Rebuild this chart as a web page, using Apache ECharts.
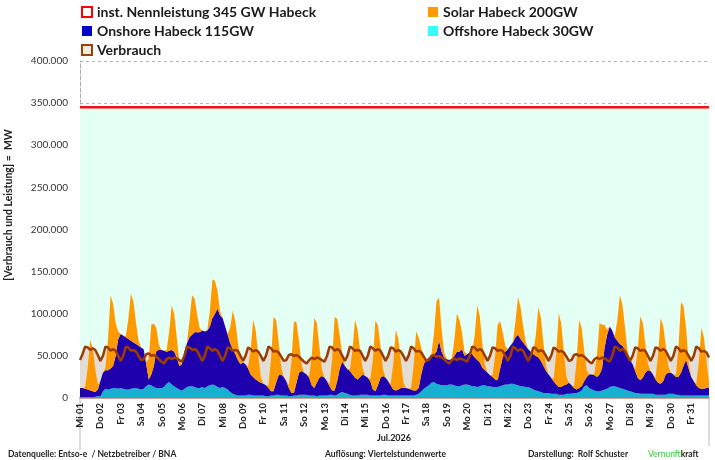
<!DOCTYPE html>
<html>
<head>
<meta charset="utf-8">
<script src="https://cdn.jsdelivr.net/npm/echarts@6/dist/echarts.min.js"></script>
<style>
  html, body { margin: 0; padding: 0; background: #fff; }
  #chart { width: 715px; height: 460px; }
</style>
</head>
<body>
<div id="chart"></div>
<script>
// Tage (Achsbeschriftung) und Stützstellen je Tag (3-Stunden-Raster)
const dayLabels = ['Mi 01', 'Do 02', 'Fr 03', 'Sa 04', 'So 05', 'Mo 06', 'Di 07', 'Mi 08', 'Do 09', 'Fr 10',
  'Sa 11', 'So 12', 'Mo 13', 'Di 14', 'Mi 15', 'Do 16', 'Fr 17', 'Sa 18', 'So 19', 'Mo 20', 'Di 21',
  'Mi 22', 'Do 23', 'Fr 24', 'Sa 25', 'So 26', 'Mo 27', 'Di 28', 'Mi 29', 'Do 30', 'Fr 31'];
const hours = ['00:00', '03:00', '06:00', '09:00', '12:00', '15:00', '18:00', '21:00'];

const yTicks = [0, 50000, 100000, 150000, 200000, 250000, 300000, 350000, 400000];

// installierte Leistung in GW
const nennleistungGW = 345;

// Offshore in GW, je Zeile ein Tag
const offshore = [
  1, 1, 1, 1, 1, 1, 1.5, 2,
  2, 8, 11, 10, 11, 12, 12, 11,
  12, 11, 10, 10, 11, 12, 12, 11,
  10, 11, 14, 16, 15, 13, 12, 12,
  12, 13, 17, 19, 16, 14, 12, 10,
  9, 11, 13, 14, 14, 13, 12, 12,
  13, 12, 14, 15, 16, 15, 13, 12,
  13, 12, 10, 7, 5, 4, 3, 3,
  3, 3, 4, 4, 3, 3, 3, 3,
  3, 2, 2, 3, 3, 4, 4, 3,
  3, 3, 2, 2, 3, 3, 4, 4,
  4, 4, 3, 3, 3, 2, 3, 3,
  3, 3, 4, 4, 3, 4, 6, 7,
  6, 5, 4, 3, 3, 3, 4, 4,
  4, 4, 3, 3, 3, 3, 3, 4,
  4, 3, 3, 3, 3, 3, 3, 3,
  3, 3, 3, 3, 4, 5, 8, 11,
  13, 15, 18, 19, 17, 16, 15, 15,
  15, 16, 16, 15, 14, 14, 15, 16,
  16, 15, 14, 14, 13, 14, 15, 15,
  14, 14, 13, 13, 13, 14, 15, 16,
  16, 17, 17, 16, 15, 14, 14, 13,
  13, 12, 10, 9, 8, 7, 6, 6,
  6, 5, 5, 5, 4, 4, 4, 5,
  5, 5, 6, 6, 7, 9, 14, 15,
  12, 10, 9, 8, 8, 9, 10, 11,
  13, 14, 14, 13, 12, 11, 10, 9,
  8, 7, 6, 6, 5, 5, 5, 5,
  5, 5, 4, 4, 4, 4, 4, 5,
  5, 5, 4, 4, 3, 3, 3, 3,
  3, 3, 3, 3, 3, 3, 3, 3
];

// Onshore in GW
const onshore = [
  11, 11, 10, 9, 8, 7, 5.5, 8,
  18, 22, 22, 23, 24, 26, 38, 59,
  64, 63, 62, 60, 57, 54, 52, 51,
  50, 47, 26, 6, 13, 25, 44, 45,
  45, 43, 38, 37, 41, 41, 36, 28,
  31, 44, 52, 58, 61, 65, 66, 66,
  67, 67, 66, 70, 79, 85, 93, 86,
  82, 73, 65, 58, 53, 48, 42, 37,
  39, 37, 31, 24, 22, 19, 17, 15,
  14, 13, 10, 5, 5, 14, 23, 25,
  22, 17, 10, 4, 3, 15, 26, 28,
  26, 24, 21, 12, 9, 16, 21, 23,
  21, 17, 10, 5, 6, 16, 29, 36,
  32, 29, 28, 25, 21, 19, 21, 24,
  22, 20, 17, 7, 5, 12, 21, 22,
  20, 17, 12, 7, 6, 7, 9, 9,
  9, 8, 7, 6, 5, 7, 20, 29,
  32, 33, 32, 33, 38, 52, 40, 33,
  31, 29, 30, 35, 41, 41, 43, 34,
  36, 39, 38, 34, 32, 28, 21, 18,
  16, 13, 12, 9, 8, 21, 33, 39,
  42, 45, 49, 56, 60, 56, 52, 49,
  45, 43, 42, 41, 40, 37, 32, 26,
  22, 19, 15, 11, 9, 9, 11, 11,
  13, 10, 6, 4, 5, 5, 6, 10,
  16, 18, 18, 17, 20, 26, 50, 64,
  72, 66, 58, 55, 52, 51, 48, 41,
  37, 33, 26, 18, 16, 19, 25, 28,
  27, 23, 18, 14, 13, 16, 24, 25,
  25, 23, 21, 21, 27, 35, 42, 32,
  22, 17, 12, 9, 8, 8, 9, 9
];

// Solar in GW
const solar = [
  0, 0, 2, 25, 60, 51, 27, 6,
  0, 0, 3, 37, 87, 74, 39, 9,
  0, 0, 2, 24, 56, 48, 25, 6,
  0, 0, 2, 25, 59, 50, 27, 6,
  0, 0, 2, 22, 53, 45, 24, 5,
  0, 0, 1, 20, 47, 40, 21, 5,
  0, 0, 1, 19, 46, 39, 21, 5,
  0, 0, 1, 19, 46, 39, 21, 5,
  0, 0, 2, 29, 68, 58, 31, 7,
  0, 0, 3, 37, 88, 75, 40, 9,
  0, 0, 3, 36, 85, 72, 38, 8,
  0, 0, 2, 35, 83, 71, 37, 8,
  0, 0, 3, 37, 87, 74, 39, 9,
  0, 0, 2, 29, 69, 59, 31, 7,
  0, 0, 3, 35, 84, 71, 38, 8,
  0, 0, 2, 30, 72, 61, 32, 7,
  0, 0, 2, 29, 70, 60, 32, 7,
  0, 0, 2, 25, 60, 51, 27, 6,
  0, 0, 1, 19, 45, 38, 20, 5,
  0, 0, 2, 27, 65, 55, 29, 7,
  0, 0, 2, 28, 66, 56, 30, 7,
  0, 0, 1, 19, 45, 38, 20, 5,
  0, 0, 2, 25, 60, 51, 27, 6,
  0, 0, 3, 37, 88, 75, 40, 9,
  0, 0, 2, 34, 81, 69, 36, 8,
  0, 0, 2, 26, 61, 52, 27, 6,
  0, 0, 2, 24, 58, 49, 26, 6,
  0, 0, 2, 32, 76, 65, 34, 8,
  0, 0, 2, 33, 78, 66, 35, 8,
  0, 0, 3, 35, 84, 71, 38, 8,
  0, 0, 2, 30, 72, 61, 32, 7
];

// Verbrauch in GW
const verbrauch = [
  45, 52, 61, 60, 57, 59, 57, 51,
  44, 50, 61, 60, 56, 58, 56, 50,
  44, 50, 61, 60, 56, 57, 55, 50,
  45, 46, 52, 53, 50, 51, 49, 46,
  43, 41, 46, 48, 46, 48, 47, 45,
  43, 50, 61, 60, 57, 58, 56, 50,
  44, 50, 61, 59, 56, 58, 56, 50,
  44, 50, 60, 59, 56, 57, 56, 50,
  44, 50, 60, 58, 55, 57, 55, 50,
  44, 50, 61, 59, 55, 56, 54, 49,
  44, 45, 51, 52, 50, 51, 49, 46,
  43, 41, 45, 48, 46, 48, 47, 45,
  43, 50, 61, 60, 56, 58, 56, 50,
  44, 50, 61, 59, 56, 57, 56, 50,
  44, 50, 61, 59, 56, 58, 56, 50,
  44, 50, 60, 59, 55, 57, 55, 50,
  44, 50, 61, 59, 55, 56, 54, 49,
  44, 45, 50, 51, 49, 50, 48, 46,
  43, 41, 45, 47, 45, 47, 46, 45,
  43, 50, 61, 60, 56, 58, 56, 50,
  44, 50, 60, 59, 56, 57, 56, 50,
  44, 50, 61, 59, 56, 58, 56, 50,
  44, 50, 60, 59, 55, 57, 55, 50,
  44, 50, 60, 58, 55, 56, 54, 49,
  44, 45, 51, 52, 50, 51, 49, 46,
  43, 41, 46, 48, 46, 48, 47, 45,
  43, 50, 61, 60, 56, 58, 56, 50,
  44, 50, 60, 59, 56, 57, 56, 50,
  44, 50, 60, 59, 56, 58, 56, 50,
  44, 50, 61, 59, 55, 57, 55, 50,
  44, 50, 61, 59, 55, 56, 54, 48
];

const FONT = 'Lato';
const toMW = v => v * 1000;
const fmt = v => String(v).replace(/\B(?=(\d{3})+(?!\d))/g, '.');

const categories = dayLabels.flatMap(d => hours.map(h => d + ' ' + h));

const names = {
  nenn: 'inst. Nennleistung 345 GW Habeck',
  on: 'Onshore Habeck 115GW',
  verb: 'Verbrauch',
  solar: 'Solar Habeck 200GW',
  off: 'Offshore Habeck 30GW'
};

const legendText = { fontFamily: FONT, fontWeight: 'bold', fontSize: 14, color: '#1a1a1a' };
const footText = { fontFamily: FONT, fontWeight: 'bold', fontSize: 8.5, fill: '#222' };

const chart = echarts.init(document.getElementById('chart'));

chart.setOption({
  animation: false,
  backgroundColor: '#fff',
  grid: { left: 80, right: 6, top: 61, bottom: 62 },
  legend: [
    {
      left: 76, top: 0, orient: 'vertical', itemGap: 5, itemWidth: 10, itemHeight: 10,
      selectedMode: false, textStyle: legendText,
      data: [
        { name: names.nenn, icon: 'rect', itemStyle: { color: '#fff', borderColor: '#ff0000', borderWidth: 2 } },
        { name: names.on, icon: 'rect', itemStyle: { color: '#0000c8', borderWidth: 0 } },
        { name: names.verb, icon: 'rect', itemStyle: { color: '#f2ebe4', borderColor: '#a04000', borderWidth: 2 } }
      ]
    },
    {
      left: 423, top: 0, orient: 'vertical', itemGap: 5, itemWidth: 10, itemHeight: 10,
      selectedMode: false, textStyle: legendText,
      data: [
        { name: names.solar, icon: 'rect', itemStyle: { color: '#ff9900', borderWidth: 0 } },
        { name: names.off, icon: 'rect', itemStyle: { color: '#33ffff', borderWidth: 0 } }
      ]
    }
  ],
  xAxis: {
    type: 'category',
    data: categories,
    boundaryGap: false,
    axisLine: { lineStyle: { color: '#d0a090', width: 2 } },
    axisTick: { show: false },
    axisLabel: {
      interval: 7,
      rotate: 90,
      margin: 5,
      fontFamily: FONT,
      fontWeight: 'bold',
      fontSize: 9.5,
      color: '#222',
      formatter: v => v.split(' ').slice(0, 2).join(' ')
    },
    splitLine: { show: false }
  },
  yAxis: {
    type: 'value',
    min: yTicks[0],
    max: yTicks[yTicks.length - 1],
    interval: yTicks[1] - yTicks[0],
    axisLine: { show: true, lineStyle: { color: '#aaa', type: 'dashed', width: 1 } },
    axisTick: { show: false },
    axisLabel: { margin: 12, fontFamily: FONT, fontSize: 10, color: '#333', formatter: fmt },
    splitLine: { lineStyle: { color: '#b4b4b4', type: [3, 3], width: 1 } }
  },
  series: [
    {
      name: names.nenn, type: 'line', z: 1, symbol: 'none', silent: true,
      data: categories.map(() => toMW(nennleistungGW)),
      itemStyle: { color: '#ff0000' },
      lineStyle: { color: '#ff1010', width: 2.5 },
      areaStyle: { color: '#e4fff4', opacity: 1 }
    },
    {
      name: 'Verbrauch Fläche', type: 'line', z: 2, symbol: 'none', silent: true,
      data: verbrauch.map(toMW),
      lineStyle: { width: 0 },
      areaStyle: { color: '#e2ded6', opacity: 1 }
    },
    {
      name: names.off, type: 'line', stack: 'ee', z: 3, symbol: 'none',
      data: offshore.map(toMW),
      itemStyle: { color: '#33ffff' },
      lineStyle: { width: 0 },
      areaStyle: { color: '#19afd2', opacity: 1 }
    },
    {
      name: names.on, type: 'line', stack: 'ee', z: 3, symbol: 'none',
      data: onshore.map(toMW),
      itemStyle: { color: '#0000c8' },
      lineStyle: { width: 0 },
      areaStyle: { color: '#1f00ad', opacity: 1 }
    },
    {
      name: names.solar, type: 'line', stack: 'ee', z: 3, symbol: 'none',
      data: solar.map(toMW),
      itemStyle: { color: '#ff9900' },
      lineStyle: { width: 0 },
      areaStyle: { color: '#ff9900', opacity: 1 }
    },
    {
      name: names.verb, type: 'line', z: 4, symbol: 'none',
      data: verbrauch.map(toMW),
      itemStyle: { color: '#a04000' },
      lineStyle: { color: '#9c3c00', width: 2.5 }
    }
  ],
  graphic: [
    {
      type: 'text', x: 9, y: 205, rotation: Math.PI / 2,
      style: {
        text: '[Verbrauch und Leistung] =  MW', fontFamily: FONT, fontWeight: 'bold',
        fontSize: 10.5, fill: '#222', align: 'center', verticalAlign: 'middle'
      }
    },
    { type: 'line', shape: { x1: 80, y1: 399, x2: 80, y2: 450 }, style: { stroke: '#bbb', lineWidth: 1 } },
    { type: 'line', shape: { x1: 709, y1: 399, x2: 709, y2: 446 }, style: { stroke: '#bbb', lineWidth: 1 } },
    {
      type: 'text', x: 394, y: 438,
      style: { text: 'Jul.2026', fontFamily: FONT, fontWeight: 'bold', fontSize: 9, fill: '#222', align: 'center', verticalAlign: 'middle' }
    },
    { type: 'text', x: 8, y: 454, style: Object.assign({ text: 'Datenquelle: Entso-e  / Netzbetreiber / BNA', verticalAlign: 'middle' }, footText) },
    { type: 'text', x: 325, y: 454, style: Object.assign({ text: 'Auflösung: Viertelstundenwerte', verticalAlign: 'middle' }, footText) },
    { type: 'text', x: 528, y: 454, style: Object.assign({ text: 'Darstellung:  Rolf Schuster', verticalAlign: 'middle' }, footText) },
    {
      type: 'text', x: 648, y: 454,
      style: Object.assign({
        text: '{a|Vernunft}{b|kraft}', verticalAlign: 'middle',
        rich: {
          a: { fill: '#33cc33', fontFamily: FONT, fontSize: 8.5 },
          b: { fill: '#222', fontFamily: FONT, fontSize: 8.5, fontWeight: 'bold' }
        }
      }, footText)
    }
  ]
});
</script>
</body>
</html>
